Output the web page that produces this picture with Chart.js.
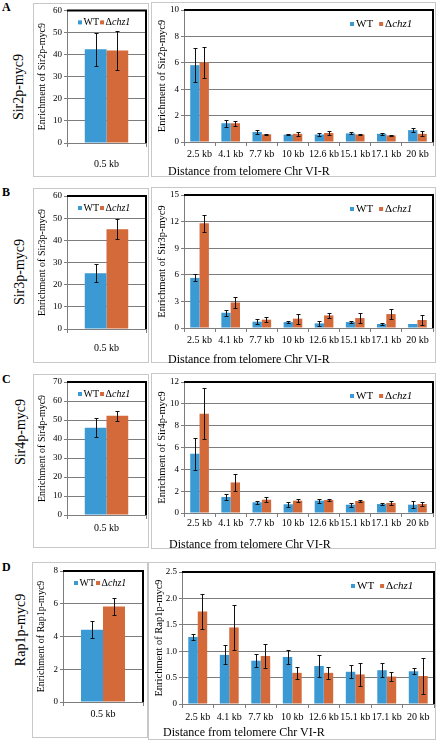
<!DOCTYPE html>
<html>
<head>
<meta charset="utf-8">
<script src="https://cdn.jsdelivr.net/npm/chart.js@4.4.1/dist/chart.umd.min.js"></script>
<style>
body{margin:0;background:#fff;width:436px;height:741px;position:relative;overflow:hidden;font-family:'Liberation Serif','DejaVu Serif',serif;color:#000;}
.box{position:absolute;border:1px solid #c8c8c8;box-sizing:border-box;}
canvas{position:absolute;}
.letter{position:absolute;font-weight:bold;font-size:12px;line-height:12px;}
.prot{position:absolute;font-size:14px;white-space:nowrap;transform:translate(-50%,-50%) rotate(-90deg);}
.dist{position:absolute;font-size:12px;white-space:nowrap;transform:translateY(-50%);}
</style>
</head>
<body>
<script>
// categories
const nearLabels = ['0.5 kb'];
const farLabels = ['2.5 kb', '4.1 kb', '7.7 kb', '10 kb', '12.6 kb', '15.1 kb', '17.1 kb', '20 kb'];
const seriesNames = ['WT', 'Δ', 'chz1'];

// Sir2p-myc9
const sir2NearWT = [42.4], sir2NearWTErr = [7.5];
const sir2NearChz = [41.9], sir2NearChzErr = [8.7];
const sir2WT = [5.82, 1.42, 0.76, 0.56, 0.57, 0.65, 0.62, 0.9];
const sir2WTErr = [1.27, 0.28, 0.15, 0.06, 0.08, 0.08, 0.07, 0.18];
const sir2Chz = [6.03, 1.42, 0.58, 0.62, 0.68, 0.57, 0.5, 0.62];
const sir2ChzErr = [1.2, 0.2, 0.05, 0.15, 0.18, 0.03, 0.03, 0.2];

// Sir3p-myc9
const sir3NearWT = [25.1], sir3NearWTErr = [4];
const sir3NearChz = [45], sir3NearChzErr = [4.5];
const sir3WT = [5.65, 1.72, 0.71, 0.67, 0.52, 0.67, 0.45, 0.45];
const sir3WTErr = [0.4, 0.35, 0.25, 0.1, 0.3, 0.15, 0.15, 0];
const sir3Chz = [11.8, 2.88, 0.94, 1.05, 1.42, 1.12, 1.57, 0.9];
const sir3ChzErr = [0.93, 0.63, 0.3, 0.58, 0.3, 0.56, 0.6, 0.6];

// Sir4p-myc9
const sir4NearWT = [45.9], sir4NearWTErr = [5.1];
const sir4NearChz = [52.3], sir4NearChzErr = [2.65];
const sir4WT = [5.43, 1.47, 0.98, 0.8, 1.13, 0.76, 0.82, 0.76];
const sir4WTErr = [1.48, 0.3, 0.14, 0.25, 0.17, 0.2, 0.1, 0.3];
const sir4Chz = [9.1, 2.8, 1.22, 1.13, 1.19, 1.1, 0.92, 0.82];
const sir4ChzErr = [2.36, 0.78, 0.2, 0.15, 0.08, 0.1, 0.18, 0.18];

// Rap1p-myc9
const rap1NearWT = [4.41], rap1NearWTErr = [0.53];
const rap1NearChz = [5.83], rap1NearChzErr = [0.53];
const rap1WT = [1.27, 0.93, 0.82, 0.89, 0.72, 0.61, 0.64, 0.62];
const rap1WTErr = [0.06, 0.18, 0.12, 0.13, 0.21, 0.12, 0.13, 0.06];
const rap1Chz = [1.75, 1.45, 0.91, 0.59, 0.59, 0.56, 0.52, 0.53];
const rap1ChzErr = [0.33, 0.42, 0.22, 0.11, 0.11, 0.21, 0.08, 0.34];

const BLUE = '#3b99d4';
const ORANGE = '#d4693a';
const GRID = '#7d7d7d';
const FAM = "'Liberation Serif', 'DejaVu Serif', serif";

Chart.defaults.font.family = FAM;
Chart.defaults.color = '#000';

// barres d'erreur
const errorBars = {
  id: 'errorBars',
  afterDatasetsDraw(chart) {
    const ctx = chart.ctx, y = chart.scales.y;
    ctx.save();
    ctx.strokeStyle = '#111';
    ctx.lineWidth = 1;
    chart.data.datasets.forEach((ds, i) => {
      chart.getDatasetMeta(i).data.forEach((bar, j) => {
        const e = ds.err[j];
        if (!e) return;
        const x = Math.round(bar.x) + 0.5;
        const t = Math.round(y.getPixelForValue(ds.data[j] + e)) + 0.5;
        const b = Math.round(y.getPixelForValue(ds.data[j] - e)) + 0.5;
        ctx.beginPath();
        ctx.moveTo(x, t); ctx.lineTo(x, b);
        ctx.moveTo(x - 2, t); ctx.lineTo(x + 2, t);
        ctx.moveTo(x - 2, b); ctx.lineTo(x + 2, b);
        ctx.stroke();
      });
    });
    ctx.restore();
  }
};

// cadre noir haut + droite
const frame = {
  id: 'frame',
  afterDraw(chart) {
    const ctx = chart.ctx, a = chart.chartArea;
    ctx.save();
    ctx.strokeStyle = '#000';
    ctx.lineWidth = 2;
    ctx.beginPath();
    ctx.moveTo(a.left, a.top);
    ctx.lineTo(a.right, a.top);
    ctx.lineTo(a.right, a.bottom);
    ctx.stroke();
    ctx.restore();
  }
};

// petite légende dans la zone du graphique
const miniLegend = {
  id: 'miniLegend',
  afterDraw(chart, args, o) {
    const ctx = chart.ctx, a = chart.chartArea;
    let x = o.fromRight ? a.right - o.dx : a.left + o.dx;
    const y = a.top + o.dy;
    ctx.save();
    ctx.textBaseline = 'middle';
    ctx.font = o.size + 'px ' + FAM;
    ctx.fillStyle = BLUE;
    ctx.fillRect(x, y - 2, 4, 4);
    x += 4 + o.sq;
    ctx.fillStyle = '#000';
    ctx.fillText(seriesNames[0], x, y);
    x += ctx.measureText(seriesNames[0]).width + o.gap;
    ctx.fillStyle = ORANGE;
    ctx.fillRect(x, y - 2, 4, 4);
    x += 4 + o.sq;
    ctx.fillStyle = '#000';
    ctx.fillText(seriesNames[1], x, y);
    x += ctx.measureText(seriesNames[1]).width;
    ctx.font = 'italic ' + o.size + 'px ' + FAM;
    ctx.fillText(seriesNames[2], x, y);
    ctx.restore();
  }
};

function addDiv(cls, text, css) {
  const d = document.createElement('div');
  d.className = cls;
  d.textContent = text;
  Object.assign(d.style, css);
  document.body.appendChild(d);
}

function makeChart(box, plot, labels, wt, wtErr, chz, chzErr, yMax, yStep, yTitle, near, xPad) {
  addDiv('box', '', {left: box.x + 'px', top: box.y + 'px', width: box.w + 'px', height: box.h + 'px'});
  const cv = document.createElement('canvas');
  cv.width = box.w; cv.height = box.h;
  cv.style.left = box.x + 'px'; cv.style.top = box.y + 'px';
  cv.style.width = box.w + 'px'; cv.style.height = box.h + 'px';
  document.body.appendChild(cv);

  const catPct = near ? 0.55 : 0.6;
  new Chart(cv.getContext('2d'), {
    type: 'bar',
    data: {
      labels: labels,
      datasets: [
        { label: seriesNames[0], data: wt, err: wtErr, backgroundColor: BLUE, categoryPercentage: catPct, barPercentage: 1 },
        { label: seriesNames[1] + seriesNames[2], data: chz, err: chzErr, backgroundColor: ORANGE, categoryPercentage: catPct, barPercentage: 1 }
      ]
    },
    options: {
      responsive: false,
      animation: false,
      devicePixelRatio: 1,
      layout: {
        padding: { top: plot.t - box.y, right: box.x + box.w - plot.r, left: 0, bottom: 0 }
      },
      plugins: {
        legend: { display: false },
        tooltip: { enabled: false },
        miniLegend: near
          ? { fromRight: false, dx: 11, dy: 12, size: 10, sq: 1.5, gap: 1 }
          : { fromRight: true, dx: 83, dy: 14, size: 11, sq: 2, gap: 6 }
      },
      scales: {
        x: {
          grid: { offset: true, drawOnChartArea: false, color: GRID, tickLength: 4 },
          border: { color: GRID },
          ticks: { font: { size: 10 }, padding: xPad, maxRotation: 0, autoSkip: false },
          afterFit: s => { s.height = box.y + box.h - plot.b; }
        },
        y: {
          min: 0,
          max: yMax,
          ticks: { stepSize: yStep, font: { size: 9 }, padding: 2 },
          grid: { color: GRID, tickLength: 3 },
          border: { color: GRID },
          title: {
            display: true,
            text: yTitle,
            font: { size: near ? 10 : 10.5 },
            padding: { top: near ? 3 : 5, bottom: 0 }
          },
          afterFit: s => { s.width = plot.l - box.x; }
        }
      }
    },
    plugins: [errorBars, frame, miniLegend]
  });
}

// A
makeChart({x: 33, y: 3, w: 116, h: 174}, {l: 67, t: 10, r: 146, b: 143}, nearLabels,
  sir2NearWT, sir2NearWTErr, sir2NearChz, sir2NearChzErr, 60, 10, 'Enrichment of Sir2p-myc9', true, 11);
makeChart({x: 151, y: 2, w: 285, h: 175}, {l: 184, t: 10, r: 433, b: 142}, farLabels,
  sir2WT, sir2WTErr, sir2Chz, sir2ChzErr, 10, 2, 'Enrichment of Sir2p-myc9', false, 2);
// B
makeChart({x: 33, y: 188, w: 116, h: 175}, {l: 67, t: 196, r: 146, b: 329}, nearLabels,
  sir3NearWT, sir3NearWTErr, sir3NearChz, sir3NearChzErr, 60, 10, 'Enrichment of Sir3p-myc9', true, 9);
makeChart({x: 151, y: 187, w: 285, h: 176}, {l: 184, t: 195, r: 433, b: 328}, farLabels,
  sir3WT, sir3WTErr, sir3Chz, sir3ChzErr, 15, 3, 'Enrichment of Sir3p-myc9', false, 2);
// C
makeChart({x: 33, y: 374, w: 116, h: 174}, {l: 67, t: 382, r: 146, b: 515}, nearLabels,
  sir4NearWT, sir4NearWTErr, sir4NearChz, sir4NearChzErr, 70, 10, 'Enrichment of Sir4p-myc9', true, 3);
makeChart({x: 151, y: 373, w: 285, h: 176}, {l: 184, t: 382, r: 433, b: 513}, farLabels,
  sir4WT, sir4WTErr, sir4Chz, sir4ChzErr, 12, 2, 'Enrichment of Sir4p-myc9', false, 0);
// D
makeChart({x: 32, y: 562, w: 116, h: 176}, {l: 63, t: 571, r: 143, b: 702}, nearLabels,
  rap1NearWT, rap1NearWTErr, rap1NearChz, rap1NearChzErr, 8, 2, 'Enrichment of Rap1p-myc9', true, 2);
makeChart({x: 148, y: 562, w: 288, h: 178}, {l: 182, t: 572, r: 434, b: 704}, farLabels,
  rap1WT, rap1WTErr, rap1Chz, rap1ChzErr, 2.5, 0.5, 'Enrichment of Rap1p-myc9', false, 3);

// textes hors graphiques
addDiv('letter', 'A', {left: '2px', top: '1px'});
addDiv('letter', 'B', {left: '2px', top: '186px'});
addDiv('letter', 'C', {left: '2px', top: '373px'});
addDiv('letter', 'D', {left: '2px', top: '561px'});

addDiv('prot', 'Sir2p-myc9', {left: '19px', top: '87px'});
addDiv('prot', 'Sir3p-myc9', {left: '20px', top: '272px'});
addDiv('prot', 'Sir4p-myc9', {left: '21px', top: '432px'});
addDiv('prot', 'Rap1p-myc9', {left: '21px', top: '630px'});

addDiv('dist', 'Distance from telomere Chr VI-R', {left: '168px', top: '171px'});
addDiv('dist', 'Distance from telomere Chr VI-R', {left: '168px', top: '359px'});
addDiv('dist', 'Distance from telomere Chr VI-R', {left: '169px', top: '544px'});
addDiv('dist', 'Distance from telomere Chr VI-R', {left: '163px', top: '732px'});
</script>
</body>
</html>
